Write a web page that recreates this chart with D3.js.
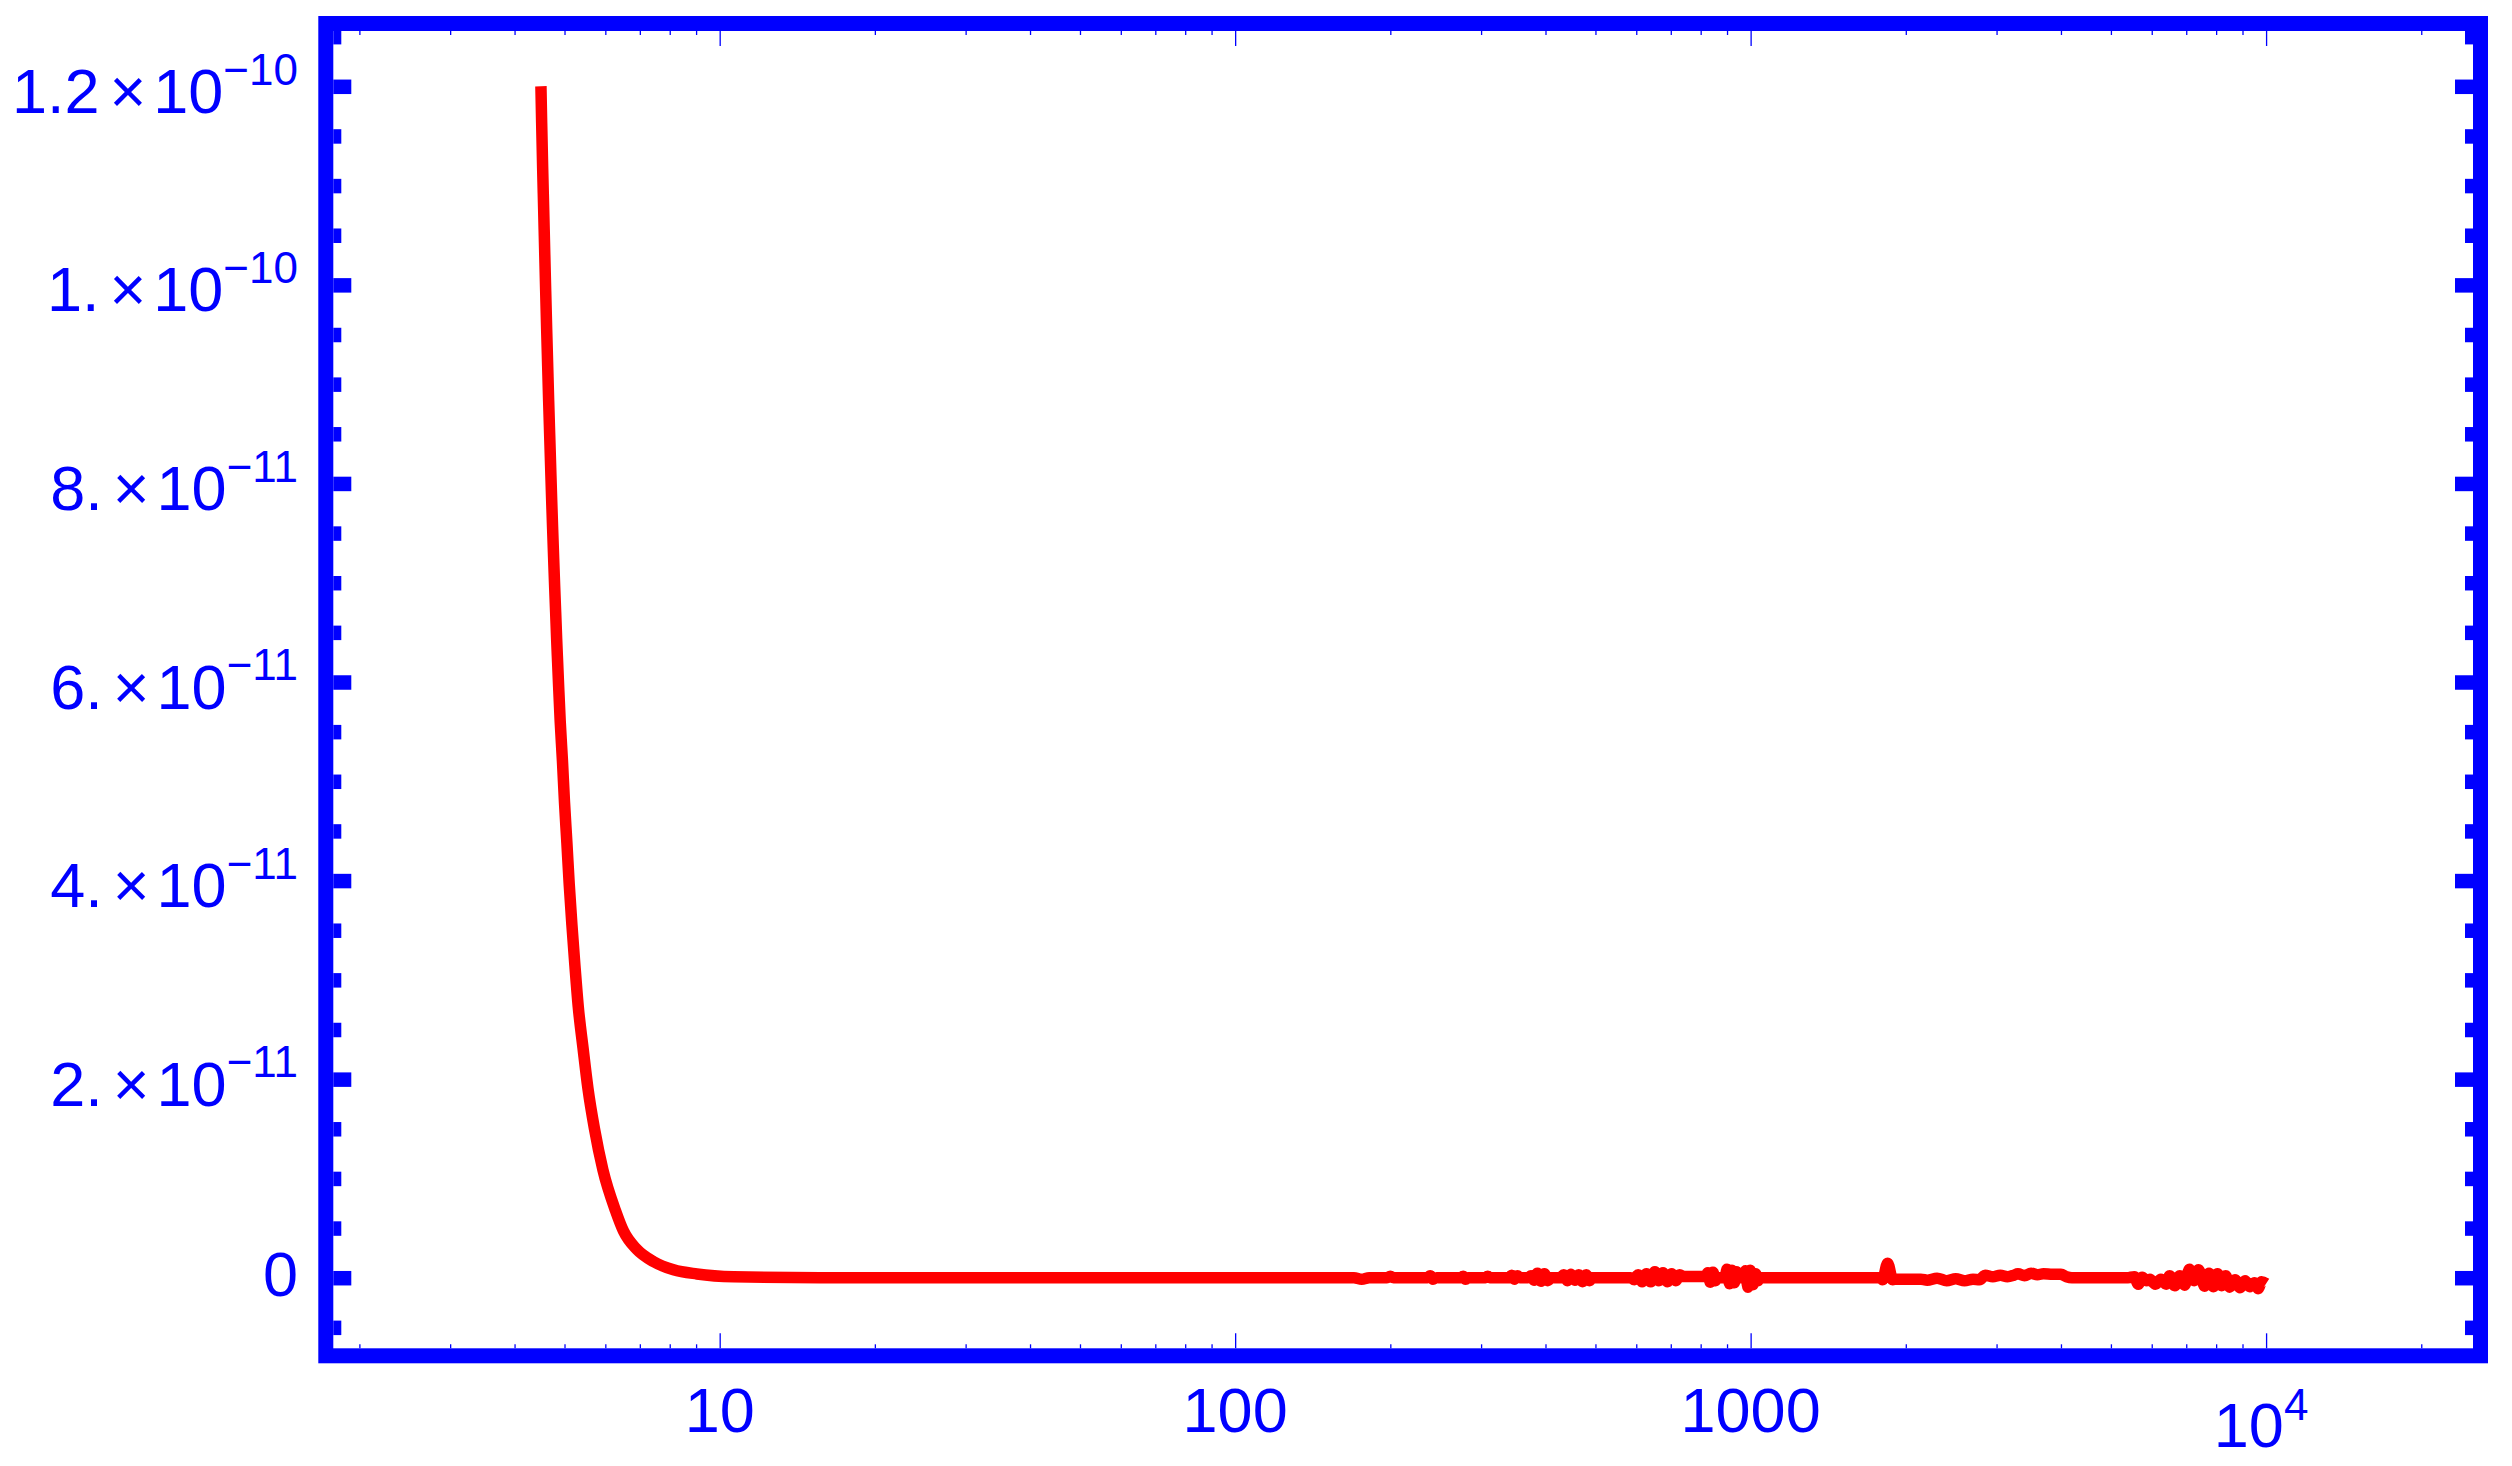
<!DOCTYPE html>
<html>
<head>
<meta charset="utf-8">
<script src="https://cdn.jsdelivr.net/npm/d3@7"></script>
<style>
  body { margin: 0; background: #fff; }
  text { font-family: "Liberation Sans", Arial, sans-serif; fill: #0000ff; }
</style>
</head>
<body>
<div id="chart"></div>
<script>
// decay part, y in units of 1e-11
const decayX = [4.5, 4.515, 4.535, 4.556, 4.576, 4.596, 4.617, 4.638, 4.658, 4.679,
    4.700, 4.721, 4.742, 4.763, 4.784, 4.806, 4.827, 4.849, 4.871, 4.904,
    4.955, 5.0, 5.054, 5.106, 5.168, 5.238, 5.316, 5.429, 5.551, 5.717,
    5.935, 6.279, 6.507, 6.908, 7.441, 8.136, 9.032, 10.64, 15.66];
const decayY = [12.0, 11.63, 11.175, 10.756, 10.345, 9.951, 9.552, 9.182, 8.833, 8.495,
    8.163, 7.837, 7.537, 7.249, 6.970, 6.703, 6.439, 6.193, 5.951, 5.609,
    5.198, 4.787, 4.375, 3.964, 3.554, 3.143, 2.732, 2.321, 1.909, 1.498,
    1.087, 0.676, 0.470, 0.285, 0.162, 0.080, 0.038, 0.010, 0];

// noisy tail, y in units of 1e-13
const tailX = [170, 176, 182, 197, 200, 203, 236, 239, 242, 246,
    274, 277, 280, 283, 306, 309, 312, 340, 344, 348, 353, 357,
    370, 375, 380, 386, 392, 398, 404, 410,
    428, 434, 441, 448, 456, 464, 472, 480, 487, 492,
    585, 595, 605, 616, 628, 640, 652, 664, 676, 690, 703, 716, 728, 740,
    760, 800, 818, 826, 835, 845, 855, 861,
    892, 900, 910, 920, 930, 938, 946,
    970, 978, 988, 998, 1010, 1022, 1034, 1040,
    1790, 1803, 1844, 1886, 1900, 2000, 2140,
    2200, 2300, 2400, 2500, 2600, 2700, 2780,
    2850, 2950, 3050, 3150, 3240, 3300, 3400, 3500, 3600, 3700,
    3850, 4000, 4100, 4200, 5400,
    5550, 5650, 5750, 5850, 5950, 6100, 6250, 6400,
    6500, 6650, 6800, 6950, 7100, 7250, 7400, 7470,
    7600, 7750, 7900, 8050, 8200, 8350,
    8500, 8700, 8900, 9100, 9300, 9500, 9650, 9800, 10000];
const tailY = [0, -1.5, 0, 0, 1.5, 0, 0, 2, -1.5, 0,
    0, 1.5, -1.5, 0, 0, 1.5, 0, 0, 2.5, -1.5, 2, 0,
    0, 2, -2.5, 4.5, -3.5, 4, -3, 0,
    0, 3, -3, 3.5, -2.5, 3, -4, 3, -3, 0,
    0, -2, 3, -4, 4, -4, 6, -3, 5, -4, 4, -3, 3, 1.3,
    1.3, 1.3, 1.3, 5, -4.5, 5.5, -3, 0,
    0, 8.5, -6, 7.5, -5, 6, 0,
    0, 7, -9.5, 7.5, -7, 4, -3, 0,
    0, -2, 14.5, -2, -1.5, -1.5, -1.5,
    -2.5, -0.5, -3, -1, -3, -1.5, -2,
    2.5, 1, 2.5, 1, 2.5, 4, 2, 4.5, 3, 4,
    3.5, 3.5, 1, 0, 0,
    1, -6.5, 0.5, -3, -1.5, -6.5, -1.5, -6.5,
    2, -8, 2, -7.5, 8.5, -3, 8, 3,
    -8.5, 4.5, -9, 4, -8, 2,
    -9.5, -2, -10, -3, -9, -5, -11, -4, -6];

const xDomain = [1.78, 25200];
const yDomain = [-7.11e-12, 1.2557e-10];

const xMajor = [10, 100, 1000, 10000];
const xMinor = [2, 3, 4, 5, 6, 7, 8, 9, 20, 30, 40, 50, 60, 70, 80, 90,
    200, 300, 400, 500, 600, 700, 800, 900, 2000, 3000, 4000, 5000, 6000, 7000, 8000, 9000, 20000];
const xLabelBase = ['10', '100', '1000', '10'];
const xLabelExp = [null, null, null, '4'];

const yMajor = [0, 2e-11, 4e-11, 6e-11, 8e-11, 1e-10, 1.2e-10];
const yMinor = [-5e-12, 5e-12, 1e-11, 1.5e-11, 2.5e-11, 3e-11, 3.5e-11, 4.5e-11, 5e-11, 5.5e-11,
    6.5e-11, 7e-11, 7.5e-11, 8.5e-11, 9e-11, 9.5e-11, 1.05e-10, 1.1e-10, 1.15e-10, 1.25e-10];
const yLabelMant = ['0', '2.', '4.', '6.', '8.', '1.', '1.2'];
const yLabelExp = [null, '\u221211', '\u221211', '\u221211', '\u221211', '\u221210', '\u221210'];

const W = 2512, H = 1466;
const plot = { left: 333.3, right: 2473, top: 31, bottom: 1348.3 };
const frameW = 15;
const BLUE = '#0000ff', RED = '#ff0000';
const fontMain = 63, fontSup = 44;

const svg = d3.select('#chart').append('svg')
    .attr('width', W)
    .attr('height', H)
    .style('display', 'block');

const x = d3.scaleLog().domain(xDomain).range([plot.left, plot.right]);
const y = d3.scaleLinear().domain(yDomain).range([plot.bottom, plot.top]);

const series = decayX.map((d, i) => [d, decayY[i] * 1e-11])
    .concat(tailX.map((d, i) => [d, tailY[i] * 1e-13]));

// curve
const line = d3.line()
    .x(d => x(d[0]))
    .y(d => y(d[1]))
    .curve(d3.curveMonotoneX);

svg.append('path')
    .datum(series)
    .attr('d', line)
    .style('fill', 'none')
    .style('stroke', RED)
    .style('stroke-width', 11.5)
    .style('stroke-linecap', 'butt')
    .style('stroke-linejoin', 'round');

// ticks
function styleTicks(g, width) {
    g.select('.domain').remove();
    g.selectAll('.tick line').style('stroke', BLUE).style('stroke-width', width);
    g.selectAll('.tick text').remove();
}

svg.append('g').attr('transform', `translate(${plot.left},0)`)
    .call(d3.axisRight(y).tickValues(yMajor).tickSize(18).tickFormat(''))
    .call(g => styleTicks(g, 14.5));
svg.append('g').attr('transform', `translate(${plot.left},0)`)
    .call(d3.axisRight(y).tickValues(yMinor).tickSize(8).tickFormat(''))
    .call(g => styleTicks(g, 14.5));
svg.append('g').attr('transform', `translate(${plot.right},0)`)
    .call(d3.axisLeft(y).tickValues(yMajor).tickSize(18).tickFormat(''))
    .call(g => styleTicks(g, 14.5));
svg.append('g').attr('transform', `translate(${plot.right},0)`)
    .call(d3.axisLeft(y).tickValues(yMinor).tickSize(8).tickFormat(''))
    .call(g => styleTicks(g, 14.5));

svg.append('g').attr('transform', `translate(0,${plot.bottom})`)
    .call(d3.axisTop(x).tickValues(xMajor).tickSize(15).tickFormat(''))
    .call(g => styleTicks(g, 1.3));
svg.append('g').attr('transform', `translate(0,${plot.bottom})`)
    .call(d3.axisTop(x).tickValues(xMinor).tickSize(4).tickFormat(''))
    .call(g => styleTicks(g, 1.3));
svg.append('g').attr('transform', `translate(0,${plot.top})`)
    .call(d3.axisBottom(x).tickValues(xMajor).tickSize(15).tickFormat(''))
    .call(g => styleTicks(g, 1.3));
svg.append('g').attr('transform', `translate(0,${plot.top})`)
    .call(d3.axisBottom(x).tickValues(xMinor).tickSize(4).tickFormat(''))
    .call(g => styleTicks(g, 1.3));

// frame
svg.append('rect')
    .attr('x', plot.left - frameW / 2)
    .attr('y', plot.top - frameW / 2)
    .attr('width', plot.right - plot.left + frameW)
    .attr('height', plot.bottom - plot.top + frameW)
    .style('fill', 'none')
    .style('stroke', BLUE)
    .style('stroke-width', frameW);

// y labels
const yLab = svg.append('g').selectAll('text')
    .data(yMajor)
    .join('text')
    .attr('x', 298)
    .attr('y', (d, i) => y(d) + (yLabelExp[i] ? 26.5 : 18.5))
    .attr('text-anchor', 'end')
    .style('font-size', fontMain + 'px');

yLab.each(function(d, i) {
    const t = d3.select(this);
    t.append('tspan').text(yLabelMant[i]);
    if (yLabelExp[i]) {
        t.append('tspan').attr('dx', 10).text('\u00d7');
        t.append('tspan').attr('dx', 7).text('10');
        t.append('tspan').attr('dy', -28.3).style('font-size', fontSup + 'px').text(yLabelExp[i]);
    }
});

// x labels
const xLab = svg.append('g').selectAll('text')
    .data(xMajor)
    .join('text')
    .attr('x', d => x(d))
    .attr('y', (d, i) => xLabelExp[i] ? 1446.7 : 1431.7)
    .attr('text-anchor', 'middle')
    .style('font-size', fontMain + 'px');

xLab.each(function(d, i) {
    const t = d3.select(this);
    t.append('tspan').text(xLabelBase[i]);
    if (xLabelExp[i]) {
        t.attr('dx', -5);
        t.append('tspan').attr('dy', -26.7).style('font-size', fontSup + 'px').text(xLabelExp[i]);
    }
});
</script>
</body>
</html>
